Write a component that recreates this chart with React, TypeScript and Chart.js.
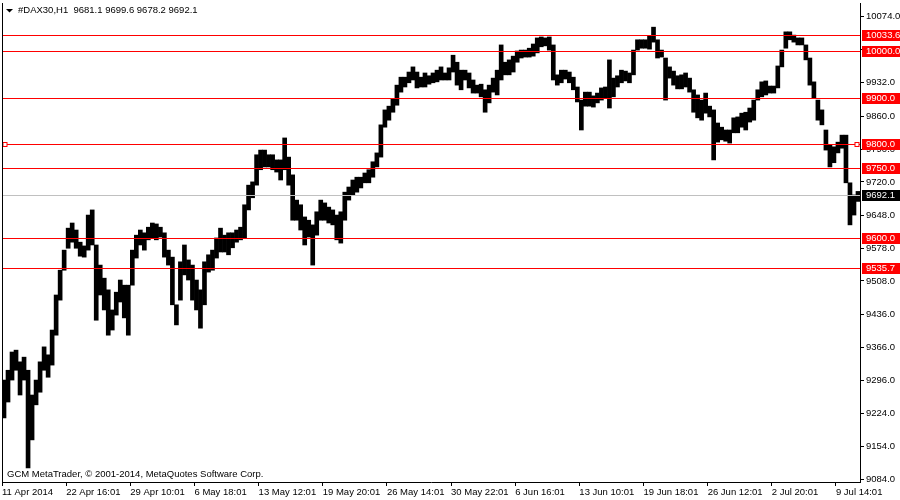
import React, { useEffect, useRef } from "react";
import { Chart, registerables } from "chart.js";

Chart.register(...registerables);

const symbolTitle = "#DAX30,H1  9681.1 9699.6 9678.2 9692.1";
const copyrightText = "GCM MetaTrader, \u00A9 2001-2014, MetaQuotes Software Corp.";

const xTickLabels = [
  "11 Apr 2014", "22 Apr 16:01", "29 Apr 10:01", "6 May 18:01", "13 May 12:01",
  "19 May 20:01", "26 May 14:01", "30 May 22:01", "6 Jun 16:01", "13 Jun 10:01",
  "19 Jun 18:01", "26 Jun 12:01", "2 Jul 20:01", "9 Jul 14:01",
];
const barsPerTick = 16;

// high / low of each group of hourly bars
const highs = [
  9296, 9317, 9356, 9360, 9335, 9345, 9317, 9264, 9296, 9335,
  9367, 9350, 9403, 9478, 9531, 9574, 9621, 9632, 9617, 9591,
  9583, 9649, 9660, 9585, 9542, 9514, 9489, 9446, 9484, 9510,
  9499, 9499, 9574, 9606, 9617, 9611, 9623, 9632, 9630, 9623,
  9611, 9574, 9559, 9457, 9549, 9585, 9553, 9542, 9510, 9489,
  9549, 9564, 9574, 9600, 9621, 9606, 9611, 9611, 9617, 9623,
  9671, 9713, 9720, 9778, 9788, 9788, 9778, 9778, 9767, 9767,
  9814, 9773, 9735, 9681, 9671, 9645, 9638, 9628, 9656, 9681,
  9675, 9666, 9660, 9649, 9656, 9698, 9709, 9724, 9730, 9730,
  9739, 9746, 9763, 9782, 9842, 9874, 9882, 9897, 9927, 9944,
  9944, 9955, 9966, 9955, 9944, 9953, 9947, 9953, 9959, 9966,
  9953, 9964, 9991, 9976, 9959, 9959, 9953, 9938, 9927, 9929,
  9917, 9927, 9942, 9959, 10013, 9976, 9981, 9989, 10000, 10002,
  10002, 10006, 10015, 10028, 10030, 10028, 10030, 10013, 9949, 9959,
  9959, 9955, 9944, 9923, 9895, 9912, 9912, 9904, 9910, 9921,
  9923, 9981, 9942, 9947, 9959, 9957, 9953, 10002, 10024, 10024,
  10024, 10032, 10051, 10024, 10002, 9985, 9966, 9957, 9947, 9949,
  9953, 9942, 9917, 9906, 9895, 9910, 9882, 9874, 9846, 9837,
  9831, 9831, 9857, 9859, 9867, 9869, 9878, 9895, 9917, 9934,
  9936, 9925, 9925, 9968, 10002, 10041, 10041, 10034, 10028, 10028,
  10013, 9985, 9934, 9895, 9874, 9831, 9799, 9795, 9805, 9820,
  9820, 9718, 9692, 9699.6,
];
const lows = [
  9215, 9249, 9296, 9317, 9264, 9296, 9108, 9168, 9243, 9270,
  9317, 9302, 9328, 9392, 9467, 9531, 9578, 9591, 9578, 9561,
  9559, 9574, 9585, 9424, 9478, 9446, 9392, 9403, 9435, 9463,
  9429, 9392, 9499, 9557, 9585, 9574, 9596, 9600, 9596, 9602,
  9559, 9542, 9457, 9414, 9467, 9521, 9510, 9467, 9446, 9407,
  9457, 9527, 9531, 9557, 9570, 9570, 9564, 9579, 9591, 9596,
  9600, 9660, 9686, 9713, 9746, 9752, 9752, 9746, 9741, 9724,
  9746, 9713, 9638, 9638, 9617, 9585, 9602, 9542, 9606, 9638,
  9638, 9632, 9628, 9596, 9589, 9638, 9681, 9692, 9698, 9707,
  9718, 9718, 9730, 9752, 9773, 9837, 9852, 9869, 9884, 9912,
  9923, 9932, 9938, 9921, 9923, 9923, 9929, 9932, 9934, 9938,
  9938, 9938, 9955, 9927, 9917, 9938, 9921, 9910, 9910, 9902,
  9869, 9889, 9912, 9906, 9938, 9949, 9949, 9955, 9976, 9985,
  9987, 9987, 9989, 9996, 10009, 10011, 10002, 9938, 9927, 9932,
  9940, 9932, 9917, 9891, 9831, 9882, 9882, 9880, 9889, 9895,
  9899, 9878, 9902, 9923, 9932, 9936, 9932, 9949, 10002, 10006,
  10006, 10004, 10019, 9985, 9987, 9895, 9942, 9927, 9919, 9919,
  9923, 9912, 9869, 9857, 9852, 9867, 9859, 9767, 9805, 9810,
  9807, 9803, 9825, 9825, 9837, 9831, 9848, 9852, 9895, 9902,
  9906, 9910, 9910, 9921, 9966, 10006, 10024, 10019, 10013, 10013,
  9981, 9927, 9899, 9852, 9842, 9788, 9752, 9761, 9782, 9792,
  9718, 9628, 9649, 9678.2,
];

const yTickValues = [9084, 9154, 9224, 9296, 9366, 9436, 9508, 9578, 9648, 9720, 9790, 9860, 9932, 10004, 10074];
const yMin = 9077.9;
const yMax = 10102.7;

const levelLines = [10033.6, 10000, 9900, 9800, 9750, 9600, 9535.7];
const bidPrice = 9692.1;
const selectedLevel = 9800;

const FONT_FAMILY = "'Liberation Sans', Arial, sans-serif";
const FONT_SIZE = 9.5;

export default function App() {
  const canvasRef = useRef<HTMLCanvasElement | null>(null);

  useEffect(() => {
    const canvas = canvasRef.current;
    if (!canvas) return;

    const categories = highs.map((_, i) =>
      i % barsPerTick === 0 ? xTickLabels[i / barsPerTick] ?? "" : ""
    );

    const overlay = {
      id: "mtOverlay",
      afterDatasetsDraw(chart: any) {
        const { ctx, chartArea, scales } = chart;
        const y = scales.y;
        ctx.save();
        const by = Math.round(y.getPixelForValue(bidPrice)) + 0.5;
        ctx.strokeStyle = "#c0c0c0";
        ctx.lineWidth = 1;
        ctx.beginPath();
        ctx.moveTo(chartArea.left, by);
        ctx.lineTo(chartArea.right, by);
        ctx.stroke();
        ctx.strokeStyle = "#ff0000";
        for (const lv of levelLines) {
          const py = Math.round(y.getPixelForValue(lv)) + 0.5;
          ctx.beginPath();
          ctx.moveTo(chartArea.left, py);
          ctx.lineTo(chartArea.right, py);
          ctx.stroke();
        }
        const sy = Math.round(y.getPixelForValue(selectedLevel)) + 0.5;
        ctx.fillStyle = "#ffffff";
        for (const sx of [chartArea.left + 1, chartArea.right - 5]) {
          ctx.fillRect(sx, sy - 2, 4, 4);
          ctx.strokeRect(sx, sy - 2, 4, 4);
        }
        ctx.restore();
      },
      afterDraw(chart: any) {
        const { ctx, chartArea, scales } = chart;
        const y = scales.y;
        ctx.save();
        ctx.font = `${FONT_SIZE}px ${FONT_FAMILY}`;
        ctx.textBaseline = "middle";
        ctx.textAlign = "left";
        ctx.strokeStyle = "#000";
        ctx.lineWidth = 1;
        ctx.beginPath();
        ctx.moveTo(chartArea.left + 0.5, chartArea.top);
        ctx.lineTo(chartArea.left + 0.5, chartArea.bottom);
        ctx.stroke();
        const drawBox = (value: number, bg: string) => {
          const py = Math.round(y.getPixelForValue(value));
          ctx.fillStyle = bg;
          ctx.fillRect(chartArea.right + 2, py - 5, 900 - chartArea.right - 2, 11);
          ctx.fillStyle = "#ffffff";
          ctx.fillText(value.toFixed(1), chartArea.right + 6, py + 0.5);
        };
        for (const lv of levelLines) drawBox(lv, "#ff0000");
        drawBox(bidPrice, "#000000");
        ctx.fillStyle = "#000";
        ctx.beginPath();
        ctx.moveTo(6, 9);
        ctx.lineTo(13, 9);
        ctx.lineTo(9.5, 12.5);
        ctx.closePath();
        ctx.fill();
        ctx.fillText(symbolTitle, 18, 10.5);
        ctx.fillText(copyrightText, 7, 474);
        ctx.restore();
      },
    };

    const chart = new Chart(canvas, {
      type: "bar",
      data: {
        labels: categories,
        datasets: [
          {
            data: highs.map((h, i) => [lows[i], h]) as any,
            backgroundColor: "#000000",
            borderWidth: 0,
            barPercentage: 1,
            categoryPercentage: 1,
          },
        ],
      },
      options: {
        animation: false,
        responsive: false,
        devicePixelRatio: 1,
        layout: { padding: { left: 2, top: 3, right: 0, bottom: 0 } },
        plugins: { legend: { display: false }, tooltip: { enabled: false } },
        scales: {
          x: {
            type: "category",
            offset: true,
            afterFit: (s: any) => {
              s.height = 18;
              s.paddingLeft = 0;
              s.paddingRight = 0;
            },
            grid: {
              drawOnChartArea: false,
              offset: true,
              tickLength: 4,
              color: (c: any) => (c.index % barsPerTick === 0 ? "#000" : "rgba(0,0,0,0)"),
            },
            border: { color: "#000", width: 1 },
            ticks: {
              autoSkip: false,
              maxRotation: 0,
              minRotation: 0,
              align: "start",
              labelOffset: -2,
              padding: 1,
              color: "#000",
              font: { family: FONT_FAMILY, size: FONT_SIZE },
            },
          },
          y: {
            type: "linear",
            position: "right",
            min: yMin,
            max: yMax,
            afterFit: (s: any) => {
              s.width = 40;
              s.paddingTop = 0;
              s.paddingBottom = 0;
            },
            afterBuildTicks: (s: any) => {
              s.ticks = yTickValues.map((v) => ({ value: v }));
            },
            grid: { drawOnChartArea: false, tickLength: 4, color: "#000" },
            border: { color: "#000", width: 1 },
            ticks: {
              padding: 2,
              color: "#000",
              font: { family: FONT_FAMILY, size: FONT_SIZE },
              callback: (v: any) => Number(v).toFixed(1),
            },
          },
        },
      },
      plugins: [overlay],
    });

    return () => chart.destroy();
  }, []);

  return (
    <div style={{ position: "fixed", left: 0, top: 0, width: 900, height: 500, background: "#fff" }}>
      <canvas ref={canvasRef} width={900} height={500} style={{ display: "block" }} />
    </div>
  );
}
